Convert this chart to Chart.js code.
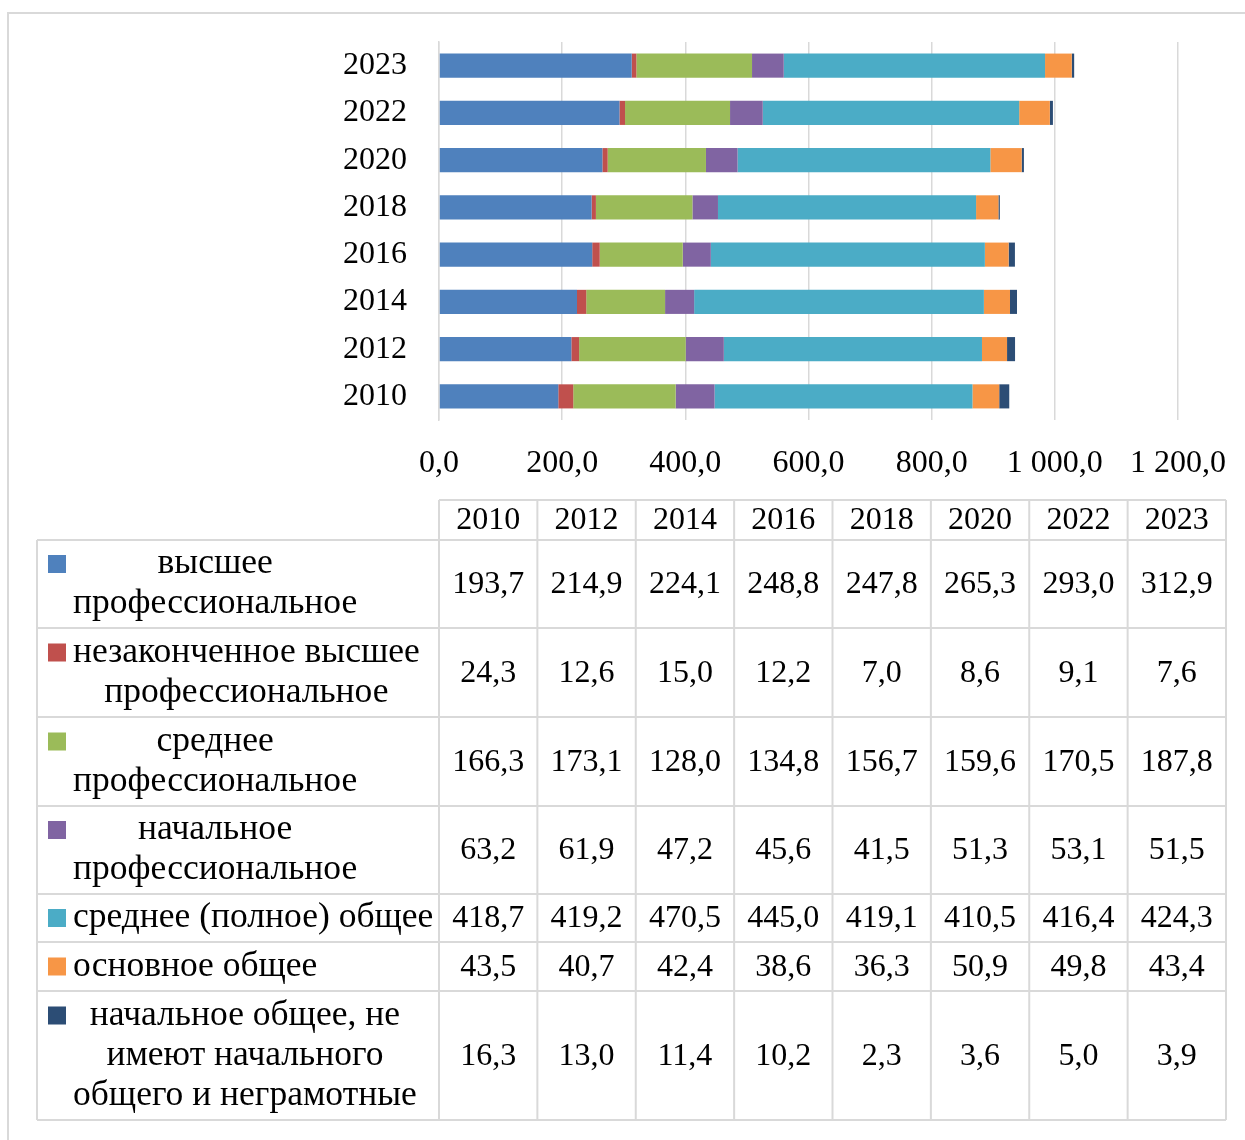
<!DOCTYPE html>
<html lang="ru">
<head>
<meta charset="utf-8">
<title>Численность занятых по уровню образования</title>
<script src="https://cdn.jsdelivr.net/npm/chart.js@4.4.1/dist/chart.umd.min.js"></script>
<style>
  html, body { margin: 0; padding: 0; background: #fff; }
  canvas { display: block; }
</style>
</head>
<body>
<canvas id="myChart" width="1245" height="1140"></canvas>
<script>
// Годы и значения по уровням образования
const years = ['2010', '2012', '2014', '2016', '2018', '2020', '2022', '2023'];
const higherProf = [193.7, 214.9, 224.1, 248.8, 247.8, 265.3, 293.0, 312.9];
const incompleteHigher = [24.3, 12.6, 15.0, 12.2, 7.0, 8.6, 9.1, 7.6];
const secondaryProf = [166.3, 173.1, 128.0, 134.8, 156.7, 159.6, 170.5, 187.8];
const primaryProf = [63.2, 61.9, 47.2, 45.6, 41.5, 51.3, 53.1, 51.5];
const secondaryGeneral = [418.7, 419.2, 470.5, 445.0, 419.1, 410.5, 416.4, 424.3];
const basicGeneral = [43.5, 40.7, 42.4, 38.6, 36.3, 50.9, 49.8, 43.4];
const primaryGeneral = [16.3, 13.0, 11.4, 10.2, 2.3, 3.6, 5.0, 3.9];
const xTicks = [0, 200, 400, 600, 800, 1000, 1200];

const FONT = 'Liberation Serif';
const LABEL_FONT = '35.5px "Liberation Serif"';
const GRID = '#d9d9d9';

const series = [
  { label: ['высшее', 'профессиональное'], data: higherProf, color: '#4f81bd' },
  { label: ['незаконченное высшее', 'профессиональное'], data: incompleteHigher, color: '#c0504d' },
  { label: ['среднее', 'профессиональное'], data: secondaryProf, color: '#9bbb59' },
  { label: ['начальное', 'профессиональное'], data: primaryProf, color: '#8064a2' },
  { label: ['среднее (полное) общее'], data: secondaryGeneral, color: '#4bacc6' },
  { label: ['основное общее'], data: basicGeneral, color: '#f79646' },
  { label: ['начальное общее, не', 'имеют начального', 'общего и неграмотные'], data: primaryGeneral, color: '#2c4d75' }
];

function fmt(v) {
  const s = v.toFixed(1).replace('.', ',');
  const [int, dec] = s.split(',');
  return int.replace(/\B(?=(\d{3})+(?!\d))/g, ' ') + ',' + dec;
}

// рамка вокруг всей диаграммы
const frame = {
  id: 'frame',
  beforeDraw(chart) {
    const c = chart.ctx;
    c.save();
    c.fillStyle = '#fff';
    c.fillRect(0, 0, chart.width, chart.height);
    c.strokeStyle = GRID;
    c.lineWidth = 2;
    c.strokeRect(8, 13, chart.width + 20, chart.height + 20);
    c.restore();
  }
};

// таблица данных под диаграммой
const dataTable = {
  id: 'dataTable',
  afterDraw(chart) {
    const c = chart.ctx;
    const left = 37, colStart = 439, right = 1226;
    const colW = (right - colStart) / years.length;
    const headTop = 500;
    const rowLines = [540, 628, 717, 806, 894, 942, 991, 1120];
    c.save();
    c.strokeStyle = GRID;
    c.lineWidth = 2;
    c.beginPath();
    c.moveTo(colStart, headTop); c.lineTo(right, headTop);
    rowLines.forEach(y => { c.moveTo(left, y); c.lineTo(right, y); });
    c.moveTo(left, rowLines[0]); c.lineTo(left, rowLines[rowLines.length - 1]);
    for (let i = 0; i <= years.length; i++) {
      const x = colStart + i * colW;
      c.moveTo(x, headTop); c.lineTo(x, rowLines[rowLines.length - 1]);
    }
    c.stroke();

    c.fillStyle = '#000';
    c.font = '32px "' + FONT + '"';
    c.textBaseline = 'middle';
    c.textAlign = 'center';
    years.forEach((y, i) => c.fillText(y, colStart + (i + 0.5) * colW, (headTop + rowLines[0]) / 2 + 1));

    series.forEach((s, r) => {
      const top = rowLines[r], bottom = rowLines[r + 1];
      const mid = (top + bottom) / 2;
      const lineH = 40;
      const firstY = mid - (s.label.length - 1) * lineH / 2;
      // маркер серии
      c.fillStyle = s.color;
      c.fillRect(48, firstY - 9, 18, 18);
      // подпись, строки центрируются по самой длинной
      c.fillStyle = '#000';
      c.font = LABEL_FONT;
      const maxW = Math.max(...s.label.map(t => c.measureText(t).width));
      const cx = 73 + maxW / 2;
      s.label.forEach((t, k) => c.fillText(t, cx, firstY + k * lineH));
      // значения
      c.font = '32px "' + FONT + '"';
      s.data.forEach((v, i) => c.fillText(fmt(v), colStart + (i + 0.5) * colW, mid + 1));
    });
    c.restore();
  }
};

const ctx = document.getElementById('myChart').getContext('2d');
const myChart = new Chart(ctx, {
  type: 'bar',
  data: {
    labels: years,
    datasets: series.map(s => ({
      label: s.label.join(' '),
      data: s.data,
      backgroundColor: s.color,
      borderWidth: 0,
      barPercentage: 0.51,
      categoryPercentage: 1
    }))
  },
  options: {
    indexAxis: 'y',
    responsive: false,
    animation: false,
    devicePixelRatio: 1,
    layout: { padding: { left: 0, right: 67, top: 42, bottom: 640 } },
    plugins: { legend: { display: false }, tooltip: { enabled: false } },
    scales: {
      x: {
        stacked: true,
        min: 0,
        max: 1200,
        afterBuildTicks: scale => { scale.ticks = xTicks.map(v => ({ value: v })); },
        afterFit: scale => {
          scale.height = 80;
          scale.paddingLeft = 0;
          scale.paddingRight = 0;
        },
        grid: { color: GRID, lineWidth: 1.5, drawTicks: false },
        border: { display: false },
        ticks: {
          padding: 24,
          color: '#000',
          font: { family: FONT, size: 32 },
          maxRotation: 0,
          callback: v => fmt(v)
        }
      },
      y: {
        stacked: true,
        reverse: true,
        afterFit: scale => {
          scale.width = 439;
          scale.paddingTop = 0;
          scale.paddingBottom = 0;
        },
        grid: { display: false, drawTicks: false },
        border: { color: GRID, width: 1.5 },
        ticks: {
          padding: 32,
          color: '#000',
          font: { family: FONT, size: 32 }
        }
      }
    }
  },
  plugins: [frame, dataTable]
});
</script>
</body>
</html>
